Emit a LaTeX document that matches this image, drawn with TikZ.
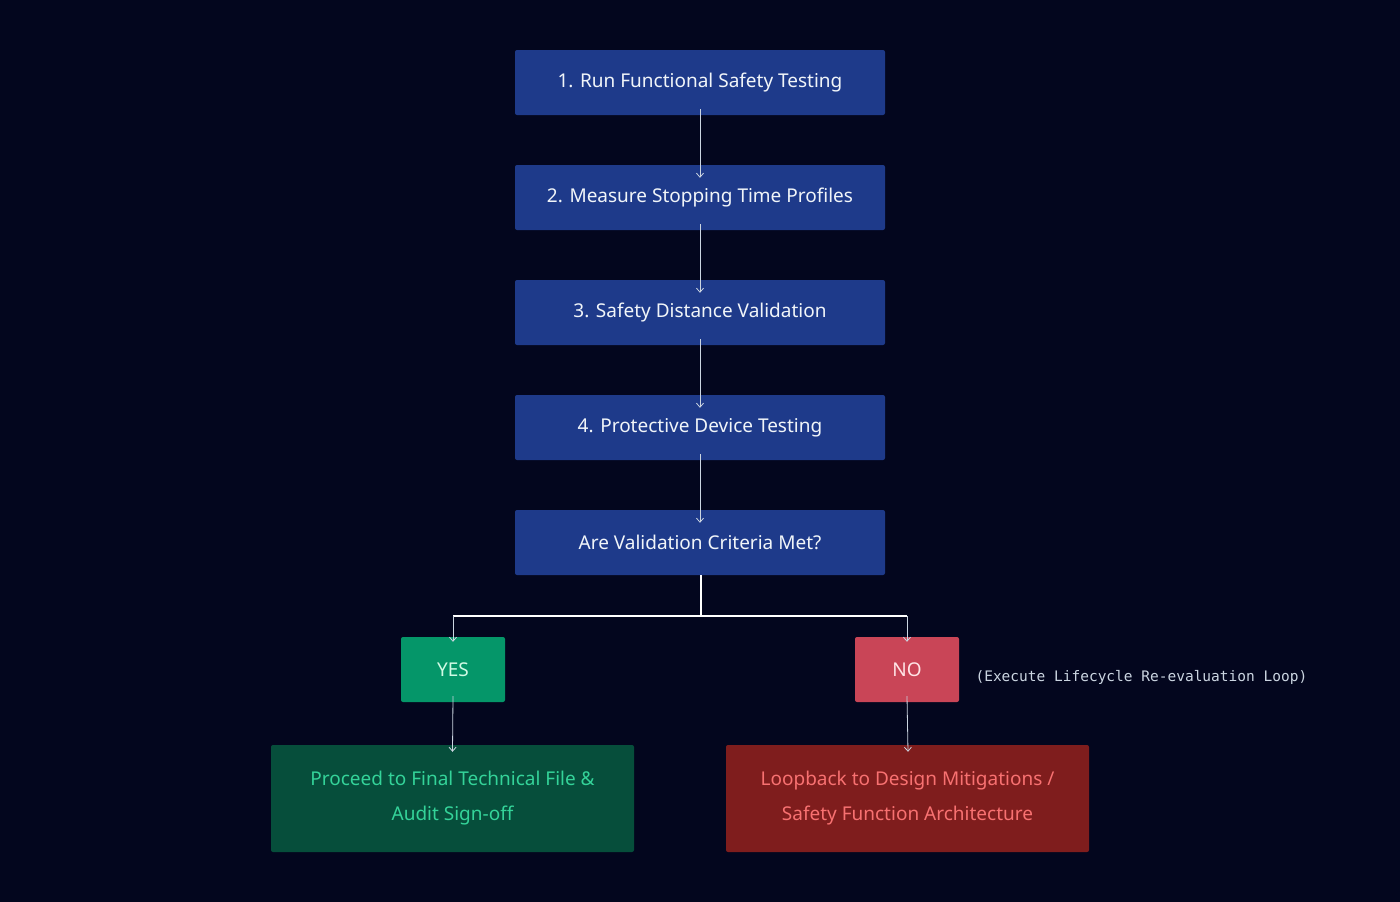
\documentclass[tikz,border=0pt]{standalone}
\usepackage{fontspec}
\setmainfont{Noto Sans}
\setmonofont{DejaVu Sans Mono}
\usetikzlibrary{arrows.meta}
\definecolor{bg}{HTML}{03061E}
\definecolor{bl}{HTML}{1E3A8A}
\definecolor{tx}{HTML}{F1F5F9}
\definecolor{gbox}{HTML}{059669}
\definecolor{gtx}{HTML}{D1FAE5}
\definecolor{dg}{HTML}{064E3B}
\definecolor{dgt}{HTML}{34D399}
\definecolor{rbox}{HTML}{C94557}
\definecolor{rtx}{HTML}{FFE4E6}
\definecolor{dr}{HTML}{7F1D1D}
\definecolor{drt}{HTML}{F87171}
\definecolor{ar}{HTML}{CBD5E1}
\begin{document}
\begin{tikzpicture}[x=1pt,y=-1pt,
 box/.style={rounded corners=2pt,minimum width=370pt,minimum height=65pt,fill=bl,text=tx,font=\fontsize{19}{22}\selectfont\bfseries,inner sep=0pt},
 sm/.style={rounded corners=2pt,minimum width=104pt,minimum height=65pt,inner sep=0pt,font=\fontsize{19}{22}\selectfont\bfseries},
 big/.style={rounded corners=2pt,minimum width=363pt,minimum height=107pt,inner sep=0pt,align=center,font=\fontsize{19}{35}\selectfont\bfseries},
 arr/.style={draw=ar,line width=0.8pt,-{Straight Barb[length=4pt,width=7pt]}}]
\fill[bg] (0,0) rectangle (1400,902);
\node[box] (b1) at (700,82.5) {1. Run Functional Safety Testing};
\node[box] (b2) at (700,197.5) {2. Measure Stopping Time Profiles};
\node[box] (b3) at (700,312.5) {3. Safety Distance Validation};
\node[box] (b4) at (700,427.5) {4. Protective Device Testing};
\node[box] (b5) at (700,542.5) {Are Validation Criteria Met?};
\node[sm,fill=gbox,text=gtx] (yes) at (453,669.5) {YES};
\node[sm,fill=rbox,text=rtx] (no) at (907,669.5) {NO};
\node[anchor=west,text=ar,font=\ttfamily\fontsize{14.5}{16}\selectfont] (lab) at (972,677) {(Execute Lifecycle Re-evaluation Loop)};
\node[big,fill=dg,text=dgt] (ok) at (452.5,798.5) {Proceed to Final Technical File \&\\Audit Sign-off};
\node[big,fill=dr,text=drt] (lb) at (907.5,798.5) {Loopback to Design Mitigations /\\Safety Function Architecture};
\foreach \a/\b in {b1/b2,b2/b3,b3/b4,b4/b5}
  \draw[arr] ([yshift=6pt]\a.south) -- ([yshift=-13pt]\b.north);
\coordinate (j) at (701,616);
\draw[white,line width=1.2pt] ([xshift=1pt]b5.south) -- (j);
\draw[white,line width=1.2pt] (453,616) -- (907,616);
\draw[arr] (453,616) -- ([yshift=-5pt]yes.north);
\draw[arr] (907,616) -- ([yshift=-5pt]no.north);
\draw[arr] ([yshift=6pt]yes.south) -- ([yshift=-7pt]ok.north);
\draw[arr] ([yshift=6pt]no.south) -- ([xshift=0.5pt,yshift=-7pt]lb.north);
\end{tikzpicture}
\end{document}
